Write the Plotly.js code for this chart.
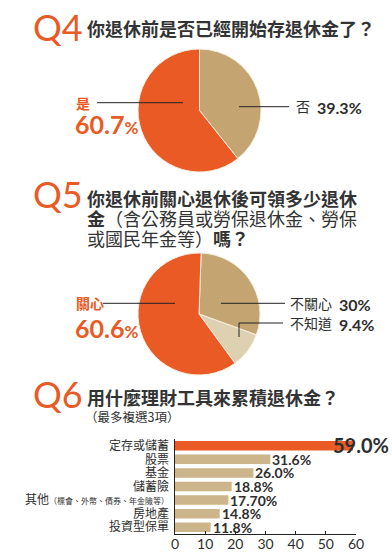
<!DOCTYPE html>
<html>
<head>
<meta charset="utf-8">
<script src="https://cdn.plot.ly/plotly-3.0.1.min.js"></script>
<style>html,body{margin:0;padding:0;background:#fff;}#chart{width:392px;height:555px;}</style>
</head>
<body>
<div id="chart"></div>
<script>
// ---- data ----
const q4Labels = ['是', '否'];
const q4Values = [60.7, 39.3];
const q5Labels = ['關心', '不知道', '不關心'];
const q5Values = [60.6, 9.4, 30];
const q6Categories = ['定存或儲蓄', '股票', '基金', '儲蓄險', '其他', '房地產', '投資型保單'];
const q6Values = [59.0, 31.6, 26.0, 18.8, 17.7, 14.8, 11.8];
const q6ValueText = ['59.0%', '31.6%', '26.0%', '18.8%', '17.70%', '14.8%', '11.8%'];
const q6TickText = ['定存或儲蓄', '股票', '基金', '儲蓄險',
  '其他<span style="font-size:8px">（標會、外幣、債券、年金險等）</span>', '房地產', '投資型保單'];
const xTickVals = [0, 10, 20, 30, 40, 50, 60];

// ---- styles ----
const W = 392, H = 555;
const ORANGE = '#E95A24', TAN = '#C4A571', LIGHT = '#DED1B1', BAR = '#CDB58B', DARK = '#2e2e2e';
const CJK = '"Noto Sans CJK TC", "Noto Sans CJK SC", sans-serif';
const NUM = 'Lato, "Noto Sans", sans-serif';
const px = x => x / W, py = y => 1 - y / H;
const rev = a => a.slice().reverse();

const pie1 = {
  type: 'pie', labels: rev(q4Labels), values: rev(q4Values), sort: false, direction: 'clockwise', rotation: 0,
  marker: {colors: rev([ORANGE, TAN]), line: {color: '#F6EEDF', width: 1}},
  textinfo: 'none', hoverinfo: 'none', showlegend: false,
  domain: {x: [px(138), px(261)], y: [py(172), py(49)]}
};
const pie2 = {
  type: 'pie', labels: rev(q5Labels), values: rev(q5Values), sort: false, direction: 'clockwise', rotation: 2,
  marker: {colors: rev([ORANGE, LIGHT, TAN]), line: {color: '#F6EEDF', width: 1}},
  textinfo: 'none', hoverinfo: 'none', showlegend: false,
  domain: {x: [px(138), px(260)], y: [py(375), py(253)]}
};
const bars = {
  type: 'bar', orientation: 'h', y: q6Categories, x: q6Values, width: 0.7,
  marker: {color: q6Values.map((v, i) => i === 0 ? ORANGE : BAR)},
  hoverinfo: 'none', showlegend: false, xaxis: 'x', yaxis: 'y'
};

const ann = [];
function txt(x, y, text, size, color, family, anchor, extra) {
  ann.push(Object.assign({xref: 'paper', yref: 'paper', x: px(x), y: py(y), text: text, showarrow: false,
    xanchor: anchor || 'left', yanchor: 'middle', font: {size: size, color: color, family: family}}, extra || {}));
}
// titles
txt(31, 27, 'Q4', 36, ORANGE, NUM);
txt(85, 28, '<b>你退休前是否已經開始存退休金了？</b>', 18, '#333', CJK);
txt(31, 194, 'Q5', 36, ORANGE, NUM);
txt(85, 198, '<b>你退休前關心退休後可領多少退休</b>', 18, '#333', CJK);
txt(85, 218, '<b>金</b>（含公務員或勞保退休金、勞保', 18, '#333', CJK);
txt(85, 238, '或國民年金等）<b>嗎？</b>', 18, '#333', CJK);
txt(31, 394, 'Q6', 36, ORANGE, NUM);
txt(85, 397, '<b>用什麼理財工具來累積退休金？</b>', 18, '#333', CJK);
txt(83, 416, '（最多複選3項）', 12.5, '#333', CJK);

// pie labels
txt(74, 103, '<b>' + q4Labels[0] + '</b>', 14, ORANGE, CJK);
txt(73, 124, '<b>' + q4Values[0].toFixed(1) + '<span style="font-size:17px">%</span></b>', 25, ORANGE, NUM);
txt(294, 106, q4Labels[1], 14, DARK, CJK);
txt(315, 107, '<b>' + q4Values[1].toFixed(1) + '%</b>', 16, DARK, NUM);

txt(74, 303, '<b>' + q5Labels[0] + '</b>', 14, ORANGE, CJK);
txt(73, 328, '<b>' + q5Values[0].toFixed(1) + '<span style="font-size:17px">%</span></b>', 25, ORANGE, NUM);
txt(288, 303, q5Labels[2], 14, DARK, CJK);
txt(337, 304, '<b>' + q5Values[2] + '%</b>', 16, DARK, NUM);
txt(288, 323, q5Labels[1], 14, DARK, CJK);
txt(337, 324, '<b>' + q5Values[1].toFixed(1) + '%</b>', 16, DARK, NUM);

// bar value labels
q6Categories.forEach((c, i) => {
  ann.push({xref: 'x', yref: 'y', x: q6Values[i], y: c, text: '<b>' + q6ValueText[i] + '</b>', showarrow: false,
    xanchor: 'left', yanchor: 'middle', xshift: i === 0 ? -22 : 0, yshift: i === 0 ? 1 : 0,
    font: {size: i === 0 ? 20 : 14, color: DARK, family: NUM}});
});

const ln = (x0, y0, x1, y1) => ({type: 'line', xref: 'paper', yref: 'paper', x0: px(x0), y0: py(y0), x1: px(x1), y1: py(y1),
  line: {color: '#222', width: 1}});
const shapes = [
  ln(97, 102.7, 183, 102.7), ln(239, 106.7, 289, 106.7),
  ln(103, 303.3, 175, 303.3), ln(221, 303.3, 285, 303.3),
  ln(239, 337, 239, 323), ln(239, 323, 283, 323)
];

const layout = {
  width: W, height: H, margin: {l: 0, r: 0, t: 0, b: 0},
  paper_bgcolor: '#fff', plot_bgcolor: 'rgba(0,0,0,0)', showlegend: false,
  xaxis: {domain: [px(175), px(356)], range: [0, 60], tickvals: xTickVals, ticks: 'inside', ticklen: 3,
    tickcolor: '#222', showline: true, linecolor: '#222', linewidth: 1, showgrid: false, zeroline: false,
    ticklabelstandoff: -3,
    tickfont: {size: 14, color: DARK, family: NUM}, anchor: 'y', fixedrange: true},
  yaxis: {domain: [py(534), py(439)], range: [6.5, -0.5], type: 'category', tickvals: q6Categories, ticktext: q6TickText,
    showline: true, linecolor: '#222', linewidth: 1.5, showgrid: false, zeroline: false, ticks: '', ticklabelstandoff: 2,
    tickfont: {size: 12, color: DARK, family: CJK}, anchor: 'x', fixedrange: true},
  annotations: ann, shapes: shapes
};

Plotly.newPlot('chart', [pie1, pie2, bars], layout, {staticPlot: true, displayModeBar: false});
</script>
</body>
</html>
